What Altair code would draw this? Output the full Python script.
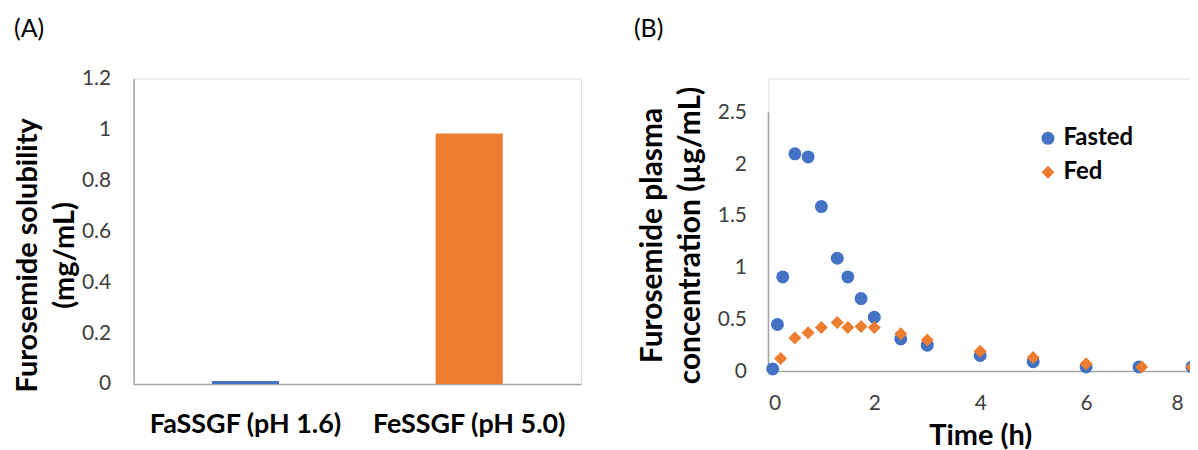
import altair as alt
import pandas as pd

# ---------------- data ----------------
media = ["FaSSGF (pH 1.6)", "FeSSGF (pH 5.0)"]
solubility = [0.012, 0.984]

series_names = ["Fasted", "Fed"]
fasted_time = [0.08, 0.17, 0.27, 0.5, 0.75, 1.0, 1.3, 1.5, 1.75, 2.0, 2.5, 3.0, 4.0, 5.0, 6.0, 7.0, 8.0]
fasted_conc = [0.02, 0.45, 0.91, 2.10, 2.07, 1.59, 1.09, 0.91, 0.70, 0.52, 0.31, 0.25, 0.15, 0.09, 0.04, 0.04, 0.04]
fed_time = [0.23, 0.5, 0.75, 1.0, 1.3, 1.5, 1.75, 2.0, 2.5, 3.0, 4.0, 5.0, 6.0, 7.05, 8.0]
fed_conc = [0.12, 0.32, 0.37, 0.42, 0.47, 0.42, 0.43, 0.42, 0.36, 0.30, 0.19, 0.13, 0.07, 0.04, 0.04]

y_ticks_a = [0, 0.2, 0.4, 0.6, 0.8, 1.0, 1.2]
y_ticks_b = [0, 0.5, 1.0, 1.5, 2.0, 2.5]
x_ticks_b = [0, 2, 4, 6, 8]
panel_labels = ["(A)", "(B)"]

# ---------------- style ----------------
BLUE = "#4472C4"
ORANGE = "#ED7D31"
GREY = "#A6A6A6"
FONT = "Lato"

bar_df = pd.DataFrame({"medium": media, "solubility": solubility})
pk_df = pd.concat(
    [
        pd.DataFrame({"time": fasted_time, "conc": fasted_conc, "series": series_names[0]}),
        pd.DataFrame({"time": fed_time, "conc": fed_conc, "series": series_names[1]}),
    ],
    ignore_index=True,
)

# ---------------- panel A ----------------
A_W, A_H = 449, 306.5

bars = alt.Chart(bar_df).mark_bar().encode(
    x=alt.X(
        "medium:N",
        sort=media,
        scale=alt.Scale(paddingInner=0.7, paddingOuter=0.35),
        axis=alt.Axis(
            title=None, labelAngle=0, labelFont=FONT, labelFontWeight="bold",
            labelFontSize=27, labelColor="black", labelPadding=28, labelLimit=500,
            ticks=False, tickSize=0, domainColor=GREY, domainWidth=1.5,
        ),
    ),
    y=alt.Y(
        "solubility:Q",
        scale=alt.Scale(domain=[0, 1.2], nice=False),
        axis=alt.Axis(
            values=y_ticks_a, format="~g", grid=False, ticks=False, tickSize=0,
            labelPadding=23, labelFont=FONT, labelFontSize=21, labelColor="#404040",
            domainColor=GREY, domainWidth=1.5,
            title=["Furosemide solubility", "(mg/mL)"], titleFont=FONT,
            titleFontWeight="bold", titleFontSize=29, titleColor="black",
            titleLineHeight=37, titleX=-106, titleY=177, titleBaseline="middle",
            titleAngle=270, titleLimit=1000,
        ),
    ),
    color=alt.Color("medium:N", scale=alt.Scale(domain=media, range=[BLUE, ORANGE]), legend=None),
)

lab_a = alt.Chart(pd.DataFrame({"lab": [panel_labels[0]]})).mark_text(
    align="left", baseline="middle", font=FONT, fontSize=25, color="black"
).encode(text="lab:N", x=alt.value(-120), y=alt.value(-50))

panel_a = alt.layer(bars, lab_a).properties(width=A_W, height=A_H)

# ---------------- panel B ----------------
B_W, B_H = 425, 293.5
B_YMAX = 2.5 * B_H / 259.5

leg = alt.Legend(
    title=None, orient="none", legendX=268.5, legendY=48, padding=0,
    labelFont=FONT, labelFontWeight="bold", labelFontSize=24, labelColor="black",
    symbolSize=170, symbolStrokeWidth=0, labelOffset=3.5, rowPadding=10,
)

points = alt.Chart(pk_df).mark_point(filled=True, opacity=1, size=170).encode(
    x=alt.X(
        "time:Q",
        scale=alt.Scale(domain=[0, 8], nice=False),
        axis=alt.Axis(
            values=x_ticks_b, grid=False, ticks=False, tickSize=0, labelPadding=22,
            labelFont=FONT, labelFontSize=21, labelColor="#404040",
            labelOffset={"condition": {"test": "datum.value == 8", "value": -9}, "value": 0},
            domainColor=GREY, domainWidth=1.5,
            title="Time (h)", titleFont=FONT, titleFontWeight="bold",
            titleFontSize=29, titleColor="black", titlePadding=8,
        ),
    ),
    y=alt.Y(
        "conc:Q",
        scale=alt.Scale(domain=[0, B_YMAX], nice=False),
        axis=alt.Axis(
            values=y_ticks_b, format="~g", grid=False, ticks=False, tickSize=0,
            domain=False, labelPadding=22, labelFont=FONT, labelFontSize=21,
            labelColor="#404040",
            title=["Furosemide plasma", "concentration (µg/mL)"], titleFont=FONT,
            titleFontWeight="bold", titleFontSize=30, titleColor="black",
            titleLineHeight=38, titleX=-116, titleY=157, titleBaseline="middle",
            titleAngle=270, titleLimit=1000,
        ),
    ),
    color=alt.Color("series:N", scale=alt.Scale(domain=series_names, range=[BLUE, ORANGE]), legend=leg),
    shape=alt.Shape("series:N", scale=alt.Scale(domain=series_names, range=["circle", "diamond"]), legend=leg),
)

y_line = alt.Chart(pd.DataFrame({"a": [0]})).mark_rule(color=GREY, strokeWidth=1.5).encode(
    x=alt.value(0), y=alt.Y(datum=y_ticks_b[0]), y2=alt.Y2(datum=y_ticks_b[-1])
)

lab_b = alt.Chart(pd.DataFrame({"lab": [panel_labels[1]]})).mark_text(
    align="left", baseline="middle", font=FONT, fontSize=25, color="black"
).encode(text="lab:N", x=alt.value(-135), y=alt.value(-50))

panel_b = alt.layer(y_line, points, lab_b).properties(width=B_W, height=B_H)

chart = (
    alt.hconcat(panel_a, panel_b, spacing=51)
    .resolve_scale(color="independent", shape="independent")
    .resolve_legend(color="independent", shape="independent")
    .properties(padding={"left": 5, "top": 7, "right": -10, "bottom": 2})
    .configure_view(stroke=None)
    .configure(background="white")
)

chart.save("out.html", embed_options={"renderer": "svg", "actions": False})
